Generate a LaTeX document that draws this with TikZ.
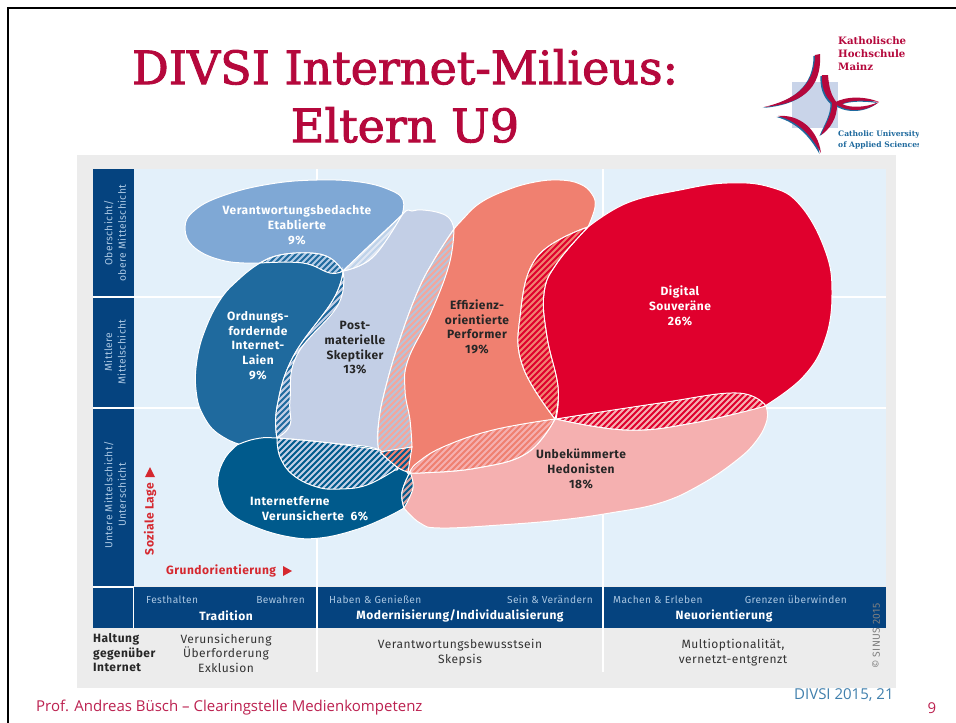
\documentclass[tikz,border=0pt]{standalone}
\usepackage{fontspec}
\setmainfont{Fira Sans}
\newfontfamily\din[LetterSpace=4]{Fira Sans}
\newfontfamily\titlefont[FakeBold=2]{DejaVu Serif}
\newfontfamily\logofont{DejaVu Serif}
\newfontfamily\foot{Open Sans}
\definecolor{crim}{HTML}{B5083C}
\definecolor{navy}{HTML}{05437F}
\definecolor{panel}{HTML}{E3F0FA}
\definecolor{greyp}{HTML}{ECECEC}
\definecolor{cV}{HTML}{7FA8D5}
\definecolor{cO}{HTML}{1F6A9E}
\definecolor{cP}{HTML}{C3CFE6}
\definecolor{cI}{HTML}{005A8C}
\definecolor{cE}{HTML}{F08070}
\definecolor{cD}{HTML}{E0002D}
\definecolor{cU}{HTML}{F5B0B0}
\definecolor{lab}{HTML}{A9C6E2}
\definecolor{txtg}{HTML}{333333}
\definecolor{redt}{HTML}{D5282F}
\tikzset{
  pl/.style={smooth,tension=0.7},
  blobw/.style={align=center,inner sep=0pt,text=white,font=\din\bfseries\fontsize{12}{14.7}\selectfont},
  blobk/.style={align=center,inner sep=0pt,text=black!85,font=\din\bfseries\fontsize{12}{14.7}\selectfont},
  sidelab/.style={align=center,inner sep=0pt,text=lab,rotate=90,font=\din\fontsize{10.3}{13.5}\selectfont},
  bandlab/.style={inner sep=0pt,text=lab,font=\din\fontsize{10.2}{12}\selectfont},
  bandhead/.style={inner sep=0pt,text=white,font=\din\bfseries\fontsize{12}{13}\selectfont},
  greytxt/.style={align=center,inner sep=0pt,text=txtg,font=\din\fontsize{12}{14.5}\selectfont},
  blob/.style={draw=white,line width=1pt},
  sep/.style={draw=white,line width=1.3pt},
  logotxt/.style={anchor=west,inner sep=0pt,font=\logofont\bfseries\fontsize{10.2}{13}\selectfont}
}
\def\shV{plot[pl] coordinates {(402,215) (403,200) (390,190) (360,182) (317,180) (270,184) (225,195) (195,210) (185,228) (195,248) (225,261) (260,263)} -- plot[pl] coordinates {(260,263) (303,263) (330,273) (343,271)} -- plot[pl] coordinates {(343,271) (367,248) (402,215)} -- cycle}
\def\shO{plot[pl] coordinates {(343,271) (330,258) (310,253) (280,255) (260,263) (238,280) (220,300) (205,330) (197,360) (196,390) (203,415) (220,435) (250,446) (277,438)} -- plot[pl] coordinates {(277,438) (290,425) (290,400) (297,355) (338,305) (343,271)} -- cycle}
\def\shP{plot[pl] coordinates {(343,271) (373,257) (402,215) (412,211) (423,210) (440,213) (450,219) (454,229)} -- plot[pl] coordinates {(454,229) (449,265) (430,315) (408,360) (405,390) (410,420) (412,447) (405,468)} -- plot[pl] coordinates {(405,468) (395,470) (367,485) (340,489) (317,487) (293,475) (280,457) (277,438)} -- plot[pl] coordinates {(277,438) (277,407) (293,357) (333,300) (343,271)} -- cycle}
\def\shI{plot[pl] coordinates {(237,445) (255,439) (277,438) (330,443) (380,450) (407,472)} -- plot[pl] coordinates {(407,472) (413,488) (404,508)} -- plot[pl] coordinates {(404,508) (385,518) (355,530) (320,538) (290,537) (255,527) (230,513) (220,495) (218,477) (225,458) (237,445)} -- cycle}
\def\shE{plot[pl] coordinates {(454,229) (462,220) (480,203) (507,190) (535,182) (560,180) (580,184) (592,194) (595,207) (588,227)} -- plot[pl] coordinates {(588,227) (537,257) (520,317) (523,367) (555,419)} -- plot[pl] coordinates {(555,419) (527,453) (477,468) (420,473) (410,472)} -- plot[pl] coordinates {(410,472) (397,467) (385,458) (378,445) (379,420) (385,390) (398,345) (417,293) (434,260) (454,229)} -- cycle}
\def\shD{plot[pl] coordinates {(588,227) (627,203) (680,190) (727,183) (770,187) (800,205) (825,250) (832,293) (825,340) (803,377) (765,406)} -- plot[pl] coordinates {(765,406) (693,423) (627,430) (556,419)} -- plot[pl] coordinates {(556,419) (558,387) (547,337) (544,293) (557,263) (588,227)} -- cycle}
\def\shU{plot[pl] coordinates {(555,419) (660,403) (737,393) (766,406)} -- plot[pl] coordinates {(766,406) (767,420) (757,440) (737,460) (700,485) (660,503) (610,513) (560,520) (500,525) (440,528) (420,523) (404,508)} -- plot[pl] coordinates {(404,508) (402,492) (410,472)} -- plot[pl] coordinates {(410,472) (417,463) (443,447) (493,430) (555,419)} -- cycle}
% hatched overlaps
\def\hA{plot[pl] coordinates {(260,263) (280,255) (310,253) (330,258) (343,271)} -- plot[pl] coordinates {(343,271) (330,273) (303,263) (260,263)} -- cycle}
\def\hB{plot[pl] coordinates {(343,271) (338,305) (297,355) (290,400) (290,425) (277,438)} -- plot[pl] coordinates {(277,438) (277,407) (293,357) (333,300) (343,271)} -- cycle}
\def\hC{plot[pl] coordinates {(343,271) (367,248) (402,215)} -- plot[pl] coordinates {(402,215) (373,257) (343,271)} -- cycle}
\def\hD{plot[pl] coordinates {(454,229) (434,260) (417,293) (398,345) (385,390) (379,420) (378,445) (380,453)} -- plot[pl] coordinates {(380,453) (412,447)} -- plot[pl] coordinates {(412,447) (410,420) (405,390) (408,360) (430,315) (449,265) (454,229)} -- cycle}
\def\hE{plot[pl] coordinates {(277,438) (330,443) (380,450)} -- plot[pl] coordinates {(380,450) (397,467) (395,470)} -- plot[pl] coordinates {(395,470) (367,485) (340,489) (317,487) (293,475) (280,457) (277,438)} -- cycle}
\def\hF{plot[pl] coordinates {(380,452) (397,467) (408,472)} -- plot[pl] coordinates {(408,472) (412,447)} -- cycle}
\def\hG{plot[pl] coordinates {(410,472) (413,488) (404,508)} -- plot[pl] coordinates {(404,508) (402,492) (410,472)} -- cycle}
\def\hH{plot[pl] coordinates {(555,419) (493,430) (443,447) (417,463) (410,472)} -- plot[pl] coordinates {(410,472) (420,473) (477,468) (527,453) (555,419)} -- cycle}
\def\hJ{plot[pl] coordinates {(588,227) (537,257) (520,317) (523,367) (555,419)} -- plot[pl] coordinates {(555,419) (558,387) (547,337) (544,293) (557,263) (588,227)} -- cycle}
\def\hK{plot[pl] coordinates {(556,419) (660,403) (737,393) (766,406)} -- plot[pl] coordinates {(766,406) (693,423) (627,430) (556,419)} -- cycle}
\newcommand\hatchreg[3]{%
  \begin{scope}
    \clip #1;
    \fill[#2] (0,0) rectangle (956,723);
    \foreach \k in {300,306,...,1500} {\draw[#3,line width=1.8pt] (\k,100) -- (\k-700,800);}
  \end{scope}
  \draw[blob] #1;}
\newcommand\logoshapes{%
  \fill (815,55) .. controls (815,85) and (795,100) .. (764,107) .. controls (800,104) and (822,90) .. (820,54) -- cycle;
  \fill (822,75) .. controls (821,92) and (829,100) .. (832,103) .. controls (832,115) and (825,125) .. (821,135) .. controls (829,130) and (838,118) .. (837,103) .. controls (831,95) and (829,88) .. (828,75) -- cycle;
  \fill (834,103) .. controls (845,96) and (865,96) .. (879,102) .. controls (865,100) and (850,100) .. (842,104) .. controls (850,108) and (865,108) .. (879,102) .. controls (865,113) and (845,112) .. (834,103) -- cycle;
  \fill (778,116) .. controls (800,114) and (818,130) .. (821,153) .. controls (812,137) and (800,122) .. (778,116) -- cycle;}
\begin{document}
\begin{tikzpicture}[x=1pt,y=-1pt]
\useasboundingbox (0,0) rectangle (956,723);
\fill[white] (0,0) rectangle (956,723);
% slide frame
\draw[black,line width=2.2pt] (8,723) -- (8,8) -- (956,8);
% title
\node[inner sep=0pt,text=crim,font=\titlefont\fontsize{46}{58}\selectfont,align=center] (title) at (405,96) {DIVSI Internet-Milieus:\\Eltern U9};
% logo
\fill[cP!90!white] (792,82) rectangle (838,128);
\begin{scope}[shift={(-1.5,1)},fill=cO]\logoshapes\end{scope}
\begin{scope}[fill=crim]\logoshapes\end{scope}
\node[logotxt,text=crim] (logoa) at (838,54) {\parbox[c]{85pt}{\raggedright Katholische\\Hochschule\\Mainz}};
\begin{scope}
\clip (830,125) rectangle (918,155);
\node[logotxt,text=cO,font=\logofont\bfseries\fontsize{7.6}{11}\selectfont] (logob) at (838,139.5) {\parbox[c]{100pt}{\raggedright Catholic University\\of Applied Sciences}};
\end{scope}
% panels
\fill[greyp] (77,155) rectangle (896,688);
\fill[panel] (134,169) rectangle (886,586);
\fill[navy] (93,169) rectangle (134,586);
\fill[navy] (93,587) rectangle (886,628);
\draw[sep] (93,297) -- (886,297);
\draw[sep] (93,408) -- (886,408);
\draw[sep] (317,169) -- (317,672);
\draw[sep] (603,169) -- (603,672);
\draw[sep] (133.5,587) -- (133.5,628);
\draw[sep] (93,587) -- (134,587);
% blobs
\fill[cV] \shV; \draw[blob] \shV;
\fill[cO] \shO; \draw[blob] \shO;
\fill[cP] \shP; \draw[blob] \shP;
\fill[cI] \shI; \draw[blob] \shI;
\fill[cU] \shU; \draw[blob] \shU;
\fill[cE] \shE; \draw[blob] \shE;
\fill[cD] \shD; \draw[blob] \shD;
% hatches
\hatchreg{\hA}{cV!60!white}{cO}
\hatchreg{\hB}{cP}{cO}
\hatchreg{\hC}{cV!50!white}{cP!50!white}
\hatchreg{\hD}{cP!85!gray}{cE!70!white}
\hatchreg{\hE}{cP}{cI}
\hatchreg{\hF}{cE}{cI}
\hatchreg{\hG}{cU!70!gray}{cI}
\hatchreg{\hH}{cU}{cE}
\hatchreg{\hJ}{cE}{cD}
\hatchreg{\hK}{cU}{cD}
% blob labels
\node[blobw] (lv) at (297,225) {Verantwortungsbedachte\\Etablierte\\9\%};
\node[blobw] (lo) at (258,345.5) {Ordnungs-\\fordernde\\Internet-\\Laien\\9\%};
\node[blobk] (lp) at (355,348) {Post-\\materielle\\Skeptiker\\13\%};
\node[blobk] (le) at (477,327) {Effizienz-\\orientierte\\Performer\\19\%};
\node[blobw] (ld) at (680,306) {Digital\\Souveräne\\26\%};
\node[blobk] (lu) at (581,469) {Unbekümmerte\\Hedonisten\\18\%};
\node[blobw,anchor=west] (li1) at (250,501) {Internetferne};
\node[blobw,anchor=west] (li2) at (262,516) {Verunsicherte\ \ 6\%};
% axis labels
\node[inner sep=0pt,rotate=90,text=redt,font=\din\bfseries\fontsize{12}{13}\selectfont,anchor=center] (soz) at (150,519) {Soziale Lage};
\fill[redt] (150,467) -- (155,477) -- (145,477) -- cycle;
\node[inner sep=0pt,text=redt,font=\din\bfseries\fontsize{12}{13}\selectfont,anchor=west] (gru) at (166,571) {Grundorientierung};
\fill[redt] (292,571) -- (283,566) -- (283,576) -- cycle;
% left column
\node[sidelab] (s1) at (115,233) {Oberschicht/\\obere Mittelschicht};
\node[sidelab] (s2) at (115,352) {Mittlere\\Mittelschicht};
\node[sidelab] (s3) at (115,495) {Untere Mittelschicht/\\Unterschicht};
% band
\node[bandlab,anchor=west] (b1) at (146,600) {Festhalten};
\node[bandlab,anchor=east] (b2) at (305,600) {Bewahren};
\node[bandhead] (b3) at (226,616) {Tradition};
\node[bandlab,anchor=west] (b4) at (329,600) {Haben \& Genießen};
\node[bandlab,anchor=east] (b5) at (593,600) {Sein \& Verändern};
\node[bandhead] (b6) at (460,616) {Modernisierung/Individualisierung};
\node[bandlab,anchor=west] (b7) at (613,600) {Machen \& Erleben};
\node[bandlab,anchor=east] (b8) at (847,600) {Grenzen überwinden};
\node[bandhead] (b9) at (724,616) {Neuorientierung};
% attitude row
\node[inner sep=0pt,align=left,text=black!85,anchor=west,font=\din\bfseries\fontsize{12}{14.5}\selectfont] (h1) at (93,653) {Haltung\\gegenüber\\Internet};
\node[greytxt] (h2) at (226,653) {Verunsicherung\\Überforderung\\Exklusion};
\node[greytxt] (h3) at (460,652.5) {Verantwortungsbewusstsein\\Skepsis};
\node[greytxt] (h4) at (733,652.5) {Multioptionalität,\\vernetzt-entgrenzt};
\node[inner sep=0pt,rotate=90,text=gray,font=\din\fontsize{10.3}{12}\selectfont] (sin) at (876,636) {© SINUS 2015};
% footer
\node[inner sep=0pt,anchor=west,text=crim!90!white,font=\foot\fontsize{15}{18}\selectfont] (f1) at (36,708) {Prof. Andreas Büsch – Clearingstelle Medienkompetenz};
\node[inner sep=0pt,anchor=west,text=cO!85!white,font=\foot\fontsize{15}{18}\selectfont] (f2) at (794,695) {DIVSI 2015, 21};
\node[inner sep=0pt,text=crim!90!white,font=\foot\fontsize{15}{18}\selectfont] (f3) at (932,708) {9};
\end{tikzpicture}
\end{document}
